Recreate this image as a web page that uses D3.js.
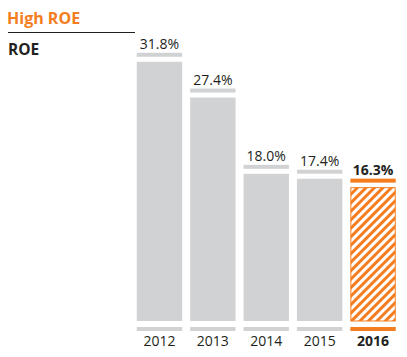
<!DOCTYPE html>
<html><head><meta charset="utf-8">
<script src="https://cdn.jsdelivr.net/npm/d3@7"></script>
<style>body{margin:0;background:#fff}svg{display:block}</style>
</head><body>
<script>
const years = ["2012","2013","2014","2015","2016"];
const roe = [31.8, 27.4, 18.0, 17.4, 16.3];
const valueLabels = ["31.8%","27.4%","18.0%","17.4%","16.3%"];
const highlight = "2016";

const W = 407, H = 357;
const orange = "#F47D20", gray = "#D1D2D4", text = "#231F20";
const font = "'Open Sans', 'Noto Sans', sans-serif";

const svg = d3.select("body").append("svg").attr("width", W).attr("height", H);

const defs = svg.append("defs");
const pat = defs.append("pattern").attr("id","hatch").attr("patternUnits","userSpaceOnUse")
  .attr("width", 6).attr("height", 6).attr("patternTransform","rotate(45)");
pat.append("rect").attr("width",6).attr("height",6).attr("fill","#fff");
pat.append("rect").attr("width",3).attr("height",6).attr("fill",orange);

const x = d3.scaleBand().domain(years).range([132.5, 400]).paddingInner(0.15).paddingOuter(0.08);
const y = d3.scaleLinear().domain([0, 35]).range([311, 26.8]);
const bodyBottom = 321, capH = 4, gap = 5;

// header
svg.append("text").attr("x", 7).attr("y", 23.5).text("High ROE")
  .attr("font-family", font).attr("font-size", 16).attr("font-weight", 700).attr("fill", orange);
svg.append("line").attr("x1", 8).attr("x2", 135).attr("y1", 32.5).attr("y2", 32.5)
  .attr("stroke", text).attr("stroke-width", 1);
svg.append("text").attr("x", 8).attr("y", 54.5).text("ROE")
  .attr("font-family", font).attr("font-size", 15.5).attr("font-weight", 700).attr("fill", text);

const g = svg.append("g").selectAll("g").data(years).join("g");

// top cap
g.append("rect").attr("x", d => x(d)).attr("width", x.bandwidth())
  .attr("y", (d,i) => y(roe[i])).attr("height", capH)
  .attr("fill", d => d === highlight ? orange : gray);
// body
g.append("rect")
  .attr("x", d => d === highlight ? x(d) + 0.5 : x(d))
  .attr("width", d => d === highlight ? x.bandwidth() - 1 : x.bandwidth())
  .attr("y", (d,i) => y(roe[i]) + capH + gap)
  .attr("height", (d,i) => bodyBottom - (y(roe[i]) + capH + gap))
  .attr("fill", d => d === highlight ? "url(#hatch)" : gray)
  .attr("stroke", d => d === highlight ? orange : "none")
  .attr("stroke-width", 1);
// bottom cap
g.append("rect").attr("x", d => x(d)).attr("width", x.bandwidth())
  .attr("y", 327).attr("height", capH)
  .attr("fill", d => d === highlight ? orange : gray);
// value labels
g.append("text").attr("x", d => x(d) + x.bandwidth()/2).attr("y", (d,i) => y(roe[i]) - 4)
  .attr("text-anchor", "middle").text((d,i) => valueLabels[i])
  .attr("font-family", font).attr("font-size", 14)
  .attr("font-weight", d => d === highlight ? 700 : 400).attr("fill", text);
// year labels
g.append("text").attr("x", d => x(d) + x.bandwidth()/2).attr("y", 345.5)
  .attr("text-anchor", "middle").text(d => d)
  .attr("font-family", font).attr("font-size", 14)
  .attr("font-weight", d => d === highlight ? 700 : 400).attr("fill", text);
</script>
</body></html>
